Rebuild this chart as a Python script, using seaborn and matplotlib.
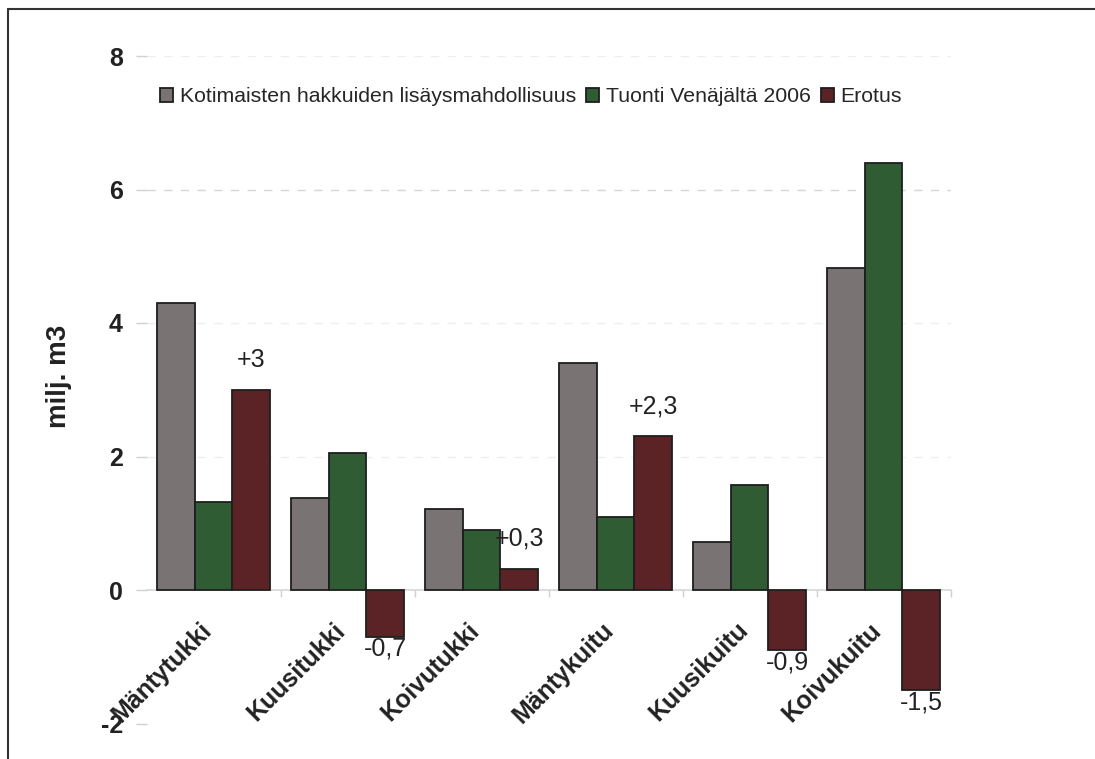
import matplotlib
matplotlib.use("Agg")
import matplotlib.pyplot as plt
import matplotlib.lines as mlines
import matplotlib.transforms as mtransforms
import seaborn as sns
import pandas as pd

categories = ["Mäntytukki", "Kuusitukki", "Koivutukki", "Mäntykuitu", "Kuusikuitu", "Koivukuitu"]
series = ["Kotimaisten hakkuiden lisäysmahdollisuus", "Tuonti Venäjältä 2006", "Erotus"]
kotimaiset = [4.3, 1.38, 1.22, 3.4, 0.72, 4.82]
tuonti = [1.32, 2.05, 0.9, 1.1, 1.57, 6.4]
erotus = [3.0, -0.7, 0.32, 2.3, -0.9, -1.5]
erotus_labels = ["+3", "-0,7", "+0,3", "+2,3", "-0,9", "-1,5"]
yticks = [-2, 0, 2, 4, 6, 8]
colors = ["#797373", "#2f5c33", "#5c2326"]

rows = []
for s, vals in zip(series, [kotimaiset, tuonti, erotus]):
    for c, v in zip(categories, vals):
        rows.append({"cat": c, "series": s, "val": v})
df = pd.DataFrame(rows)

sns.set_theme(style="white")
plt.rcParams["font.family"] = ["Liberation Sans", "DejaVu Sans"]

fig = plt.figure(figsize=(10.95, 7.59), dpi=100)
ax = fig.add_axes([146.5 / 1095, 1 - 723.5 / 759, 804 / 1095, 667.5 / 759])

sns.barplot(data=df, x="cat", y="val", hue="series", palette=colors, order=categories,
            hue_order=series, width=0.845, saturation=1, edgecolor="#1e1e1e",
            linewidth=1.3, ax=ax, legend=True)

ax.set_ylim(-2, 8)
ax.set_xlim(-0.5, len(categories) - 0.5)
ax.set_yticks(yticks)
ax.set_yticklabels([str(t) for t in yticks], fontsize=18, fontweight="bold", color="#222222")
for t in yticks:
    if t > 0:
        ax.axhline(t, color="#d6d6d6" if t == 6 else "#eeeeee", lw=1, ls=(0, (6, 6)), zorder=0)

for sp in ["top", "right", "left"]:
    ax.spines[sp].set_visible(False)
ax.spines["bottom"].set_position(("data", 0))
ax.spines["bottom"].set_color("#d8d8d8")
ax.spines["bottom"].set_zorder(0)
ax.tick_params(axis="y", length=8, color="#d0d0d0", width=1, pad=9, left=True)
ax.tick_params(axis="x", length=0, pad=0)

ax.set_xticks(range(len(categories)))
ax.set_xticklabels(categories, rotation=45, ha="right", va="top", rotation_mode="anchor",
                   fontsize=18, fontweight="bold", color="#222222")
offset = mtransforms.ScaledTranslation(-14 / 100, -28 / 100, fig.dpi_scale_trans)
for lbl in ax.get_xticklabels():
    lbl.set_transform(lbl.get_transform() + offset)
ax.set_xticks([i + 0.5 for i in range(len(categories))], minor=True)
ax.tick_params(axis="x", which="minor", length=5, color="#d0d0d0", bottom=True)

ax.set_xlabel("")
ax.set_ylabel("milj. m3", fontsize=20, fontweight="bold", color="#222222")
ax.yaxis.set_label_coords(-0.093, 0.52)

# value labels on the Erotus bars
red_bars = ax.containers[2]
for bar, txt, v in zip(red_bars, erotus_labels, erotus):
    xc = bar.get_x() + bar.get_width() / 2
    if v >= 0:
        ax.annotate(txt, (xc, v), xytext=(0, 13), textcoords="offset points",
                    ha="center", va="bottom", fontsize=18, color="#222222")
    else:
        ax.annotate(txt, (xc, v), xytext=(0, 0), textcoords="offset points",
                    ha="center", va="top", fontsize=18, color="#222222")

handles, labels = ax.get_legend_handles_labels()
ax.get_legend().remove()
fig.legend(handles, labels, loc="center", bbox_to_anchor=(531 / 1095, 1 - 97 / 759),
           ncol=3, frameon=False, fontsize=15.3, handlelength=0.6, handleheight=0.6,
           handletextpad=0.3, columnspacing=0.5, borderaxespad=0)

# outer frame (top and left lines)
fig.add_artist(mlines.Line2D([8 / 1095, 1.0], [1 - 9 / 759, 1 - 9 / 759], color="#333333", lw=1.5,
                             transform=fig.transFigure))
fig.add_artist(mlines.Line2D([8 / 1095, 8 / 1095], [0, 1 - 9 / 759], color="#333333", lw=1.5,
                             transform=fig.transFigure))

fig.savefig("out.png", dpi=100)
